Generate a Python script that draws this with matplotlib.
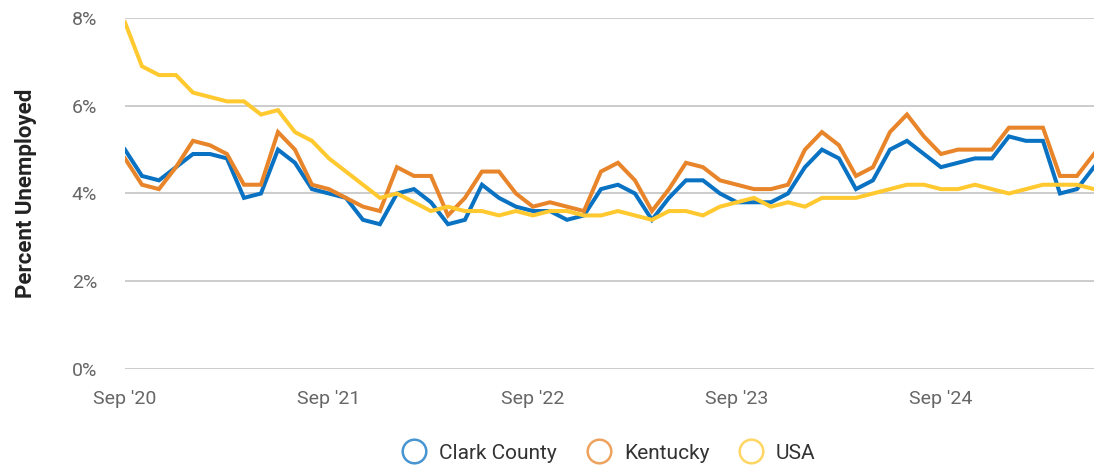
import matplotlib.pyplot as plt
from matplotlib.lines import Line2D
from matplotlib.ticker import FuncFormatter

plt.rcParams['font.family'] = ['Roboto', 'DejaVu Sans']

# monthly values, Sep 2020 .. Jun 2025
months = list(range(58))
clark = [5.0, 4.4, 4.3, 4.6, 4.9, 4.9, 4.8, 3.9, 4.0, 5.0, 4.7, 4.1,
         4.0, 3.9, 3.4, 3.3, 4.0, 4.1, 3.8, 3.3, 3.4, 4.2, 3.9, 3.7,
         3.6, 3.6, 3.4, 3.5, 4.1, 4.2, 4.0, 3.4, 3.9, 4.3, 4.3, 4.0,
         3.8, 3.8, 3.8, 4.0, 4.6, 5.0, 4.8, 4.1, 4.3, 5.0, 5.2, 4.9,
         4.6, 4.7, 4.8, 4.8, 5.3, 5.2, 5.2, 4.0, 4.1, 4.6]
kentucky = [4.8, 4.2, 4.1, 4.6, 5.2, 5.1, 4.9, 4.2, 4.2, 5.4, 5.0, 4.2,
            4.1, 3.9, 3.7, 3.6, 4.6, 4.4, 4.4, 3.5, 3.9, 4.5, 4.5, 4.0,
            3.7, 3.8, 3.7, 3.6, 4.5, 4.7, 4.3, 3.6, 4.1, 4.7, 4.6, 4.3,
            4.2, 4.1, 4.1, 4.2, 5.0, 5.4, 5.1, 4.4, 4.6, 5.4, 5.8, 5.3,
            4.9, 5.0, 5.0, 5.0, 5.5, 5.5, 5.5, 4.4, 4.4, 4.9]
usa = [7.9, 6.9, 6.7, 6.7, 6.3, 6.2, 6.1, 6.1, 5.8, 5.9, 5.4, 5.2,
       4.8, 4.5, 4.2, 3.9, 4.0, 3.8, 3.6, 3.7, 3.6, 3.6, 3.5, 3.6,
       3.5, 3.6, 3.6, 3.5, 3.5, 3.6, 3.5, 3.4, 3.6, 3.6, 3.5, 3.7,
       3.8, 3.9, 3.7, 3.8, 3.7, 3.9, 3.9, 3.9, 4.0, 4.1, 4.2, 4.2,
       4.1, 4.1, 4.2, 4.1, 4.0, 4.1, 4.2, 4.2, 4.2, 4.1]
series_names = ['Clark County', 'Kentucky', 'USA']
tick_pos = [0, 12, 24, 36, 48]
tick_labels = ["Sep '20", "Sep '21", "Sep '22", "Sep '23", "Sep '24"]

colors = ['#0a72c2', '#e8852a', '#ffc92f']

fig = plt.figure(figsize=(10.99, 4.70), dpi=100)
ax = fig.add_axes([0.1137, 0.2149, 0.8817, 0.7468])

for vals, c, name in zip([clark, kentucky, usa], colors, series_names):
    ax.plot(months, vals, color=c, lw=2.9, label=name, solid_joinstyle='miter', zorder=3)

ax.set_xlim(0, 57)
ax.set_ylim(0, 8)
ax.set_yticks([0, 2, 4, 6, 8])
ax.yaxis.set_major_formatter(FuncFormatter(lambda v, p: f'{v:.0f}%'))
ax.set_xticks(tick_pos)
ax.set_xticklabels(tick_labels)
ax.grid(axis='y', color='#cccccc', lw=1.4)
ax.tick_params(axis='both', length=0, labelsize=14, labelcolor='#666666')
ax.tick_params(axis='y', pad=20)
ax.tick_params(axis='x', pad=15)
for s in ax.spines.values():
    s.set_visible(False)

ax.set_ylabel('Percent Unemployed', fontsize=16, fontweight='bold', color='#222222')
ax.yaxis.set_label_coords(-0.091, 0.5)

handles = [Line2D([0], [0], marker='o', linestyle='none', markersize=17,
                  markerfacecolor='none', markeredgecolor=c, markeredgewidth=1.8, alpha=0.75)
           for c in colors]
fig.legend(handles, series_names, loc='center', bbox_to_anchor=(0.552, 0.036), ncol=3,
           frameon=False, fontsize=15, labelcolor='#333333', handletextpad=0.4,
           handlelength=1.6, columnspacing=1.2)

fig.savefig('out.png', dpi=100)
